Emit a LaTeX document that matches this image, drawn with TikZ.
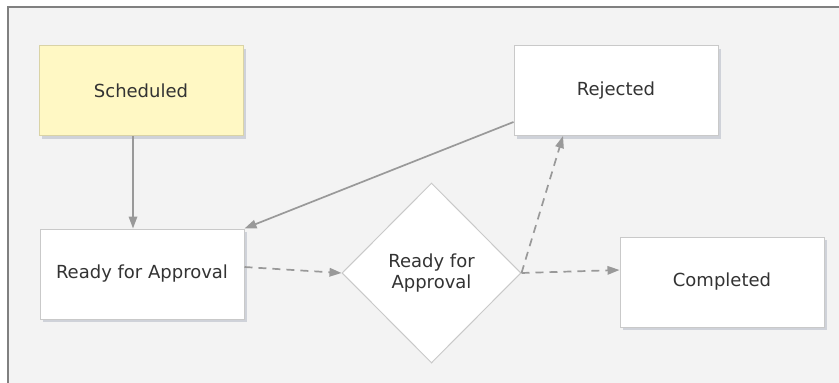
\documentclass[tikz,border=0pt]{standalone}
\usepackage{fontspec}
\setmainfont{DejaVu Sans}
\usetikzlibrary{shapes.geometric,arrows.meta,shadows,calc}
\definecolor{bgc}{HTML}{F3F3F3}
\definecolor{framec}{HTML}{808080}
\definecolor{boxline}{HTML}{C9C9C9}
\definecolor{yel}{HTML}{FFF8C4}
\definecolor{yelline}{HTML}{D9D3A6}
\definecolor{txt}{HTML}{333333}
\definecolor{arrc}{HTML}{999999}
\definecolor{shad}{HTML}{B8BCC8}
\tikzset{
  state/.style={draw=boxline, line width=1pt, fill=white, rectangle, minimum width=204pt, minimum height=90pt,
    inner sep=0pt, text=txt, font=\fontsize{18}{21}\selectfont,
    drop shadow={shadow xshift=3pt, shadow yshift=-3pt, fill=shad, opacity=0.6}},
  startstate/.style={state, fill=yel, draw=yelline},
  choice/.style={draw=boxline, line width=1pt, fill=white, diamond, minimum width=179pt, minimum height=180pt,
    inner sep=0pt, text=txt, align=center, font=\fontsize{18}{21.5}\selectfont},
  link/.style={draw=arrc, line width=1.7pt, -{Triangle[length=12pt,width=8.5pt]}},
  dlink/.style={link, dash pattern=on 8pt off 6pt}
}
\begin{document}
\begin{tikzpicture}[x=1pt,y=-1pt]
\useasboundingbox (0,0) rectangle (839,383);
\fill[white] (0,0) rectangle (839,383);
\fill[bgc] (8,7) rectangle (839,383);
\draw[framec, line width=2pt] (8,383) -- (8,7) -- (839,7);

\node[startstate] (sched) at (141,90.5) {Scheduled};
\node[state] (rfa) at (142,274) {Ready for Approval};
\node[state] (rej) at (616,90.5) {Rejected};
\node[choice] (dia) at (431.5,273) {Ready for\\Approval};
\node[state] (comp) at (722,282) {Completed};

\draw[link] ($(sched.south)+(-8,0)$) -- ($(rfa.north)+(-9,0)$);
\draw[link] ($(rej.south west)+(0,-14)$) -- (rfa.north east);
\draw[dlink] ($(rfa.east)+(0,-7)$) -- (dia.west);
\draw[dlink] (dia.east) -- ($(comp.west)+(0,-12)$);
\draw[dlink] (dia.east) -- ($(rej.south)+(-53,0)$);
\end{tikzpicture}
\end{document}
